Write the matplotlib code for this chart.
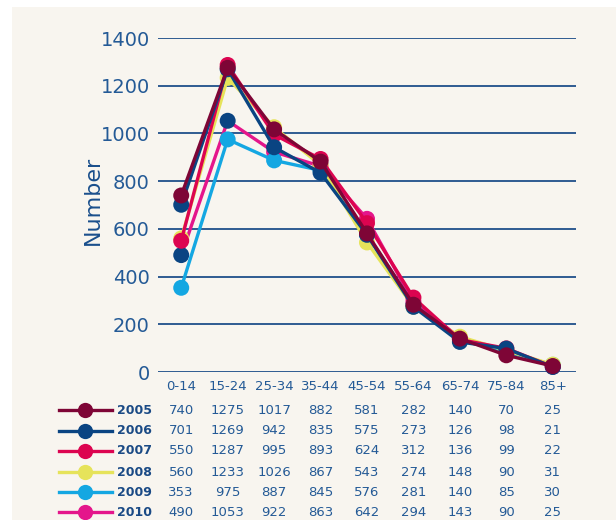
import matplotlib
matplotlib.use("Agg")
import matplotlib.pyplot as plt
from matplotlib.patches import Rectangle
from matplotlib.lines import Line2D
import matplotlib.transforms as mtransforms

categories = ["0-14", "15-24", "25-34", "35-44", "45-54", "55-64", "65-74", "75-84", "85+"]
years = ["2005", "2006", "2007", "2008", "2009", "2010"]
v2005 = [740, 1275, 1017, 882, 581, 282, 140, 70, 25]
v2006 = [701, 1269, 942, 835, 575, 273, 126, 98, 21]
v2007 = [550, 1287, 995, 893, 624, 312, 136, 99, 22]
v2008 = [560, 1233, 1026, 867, 543, 274, 148, 90, 31]
v2009 = [353, 975, 887, 845, 576, 281, 140, 85, 30]
v2010 = [490, 1053, 922, 863, 642, 294, 143, 90, 25]
series = [v2005, v2006, v2007, v2008, v2009, v2010]
colors = ["#7e0536", "#0a4482", "#dc0450", "#e6e35a", "#14a7e2", "#e4168b"]
# in the reference the first two 2010 markers are drawn in the 2006 blue
v2010_marker_colors = ["#0a4482", "#0a4482"] + ["#e4168b"] * 7
yticks = [0, 200, 400, 600, 800, 1000, 1200, 1400]

W, H = 616, 520
fig = plt.figure(figsize=(W / 100, H / 100), dpi=100)
fig.patch.set_facecolor("white")
fig.patches.append(Rectangle((12 / W, 0), 1, 1 - 7 / H, transform=fig.transFigure,
                             facecolor="#f8f5ef", edgecolor="none", zorder=-10))

ax = fig.add_axes([158 / W, 1 - 372 / H, (576 - 158) / W, (372 - 38) / H])
ax.set_facecolor("none")
for s in ax.spines.values():
    s.set_visible(False)
ax.set_xlim(-0.5, len(categories) - 0.5)
ax.set_ylim(0, 1400)

grid_c = "#1f4f8a"
for yv in yticks:
    ax.axhline(yv, color=grid_c, lw=1.3, zorder=1)

x = list(range(len(categories)))
z = 3
for i in reversed(range(len(series))):
    vals, c = series[i], colors[i]
    ax.plot(x, vals, color=c, lw=2.4, zorder=z, clip_on=False)
    mcols = v2010_marker_colors if years[i] == "2010" else [c] * len(vals)
    ax.scatter(x, vals, s=11.5 ** 2, c=mcols, linewidths=0, zorder=z + 0.5, clip_on=False)
    z += 1

text_c = "#245a96"
ax.set_yticks(yticks)
ax.set_yticklabels([str(t) for t in yticks], fontsize=14, color=text_c)
ax.set_xticks(x)
ax.set_xticklabels(categories, fontsize=9.5, color=text_c)
ax.tick_params(axis="both", length=0)
ax.tick_params(axis="y", pad=6)
ax.tick_params(axis="x", pad=6)
ax.set_ylabel("Number", fontsize=16, color="#1a4f8c")
ax.yaxis.set_label_coords(-0.132, 0.515)

# table legend
trans = mtransforms.blended_transform_factory(ax.transData, fig.transFigure)
row_y = [410, 431, 451, 472, 492, 512]
for yr, vals, c, ry in zip(years, series, colors, row_y):
    fy = 1 - ry / H
    fig.lines.append(Line2D([59 / W, 112 / W], [fy, fy], transform=fig.transFigure,
                            color=c, lw=2.4))
    fig.lines.append(Line2D([85 / W], [fy], transform=fig.transFigure, color=c,
                            marker="o", markersize=11, markeredgewidth=0))
    fig.text(117 / W, fy, yr, fontsize=9, fontweight="bold", color="#1a4a85",
             ha="left", va="center")
    for xi, v in zip(x, vals):
        fig.text(xi, fy, str(v), transform=trans, fontsize=9.5, color=text_c,
                 ha="center", va="center")

fig.savefig("out.png", dpi=100, facecolor=fig.get_facecolor())
